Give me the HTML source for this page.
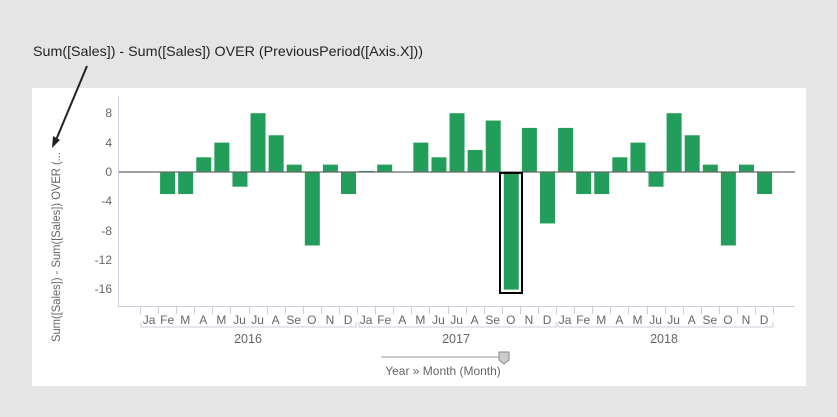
<!DOCTYPE html>
<html><head><meta charset="utf-8"><style>
html,body{margin:0;padding:0;background:#e5e5e5;}
svg{display:block;font-family:"Liberation Sans",sans-serif;}
</style></head><body>
<svg width="837" height="417" viewBox="0 0 837 417" xmlns="http://www.w3.org/2000/svg">
<rect width="837" height="417" fill="#e5e5e5"/>
<text x="33" y="56" font-size="14" fill="#222" textLength="390" lengthAdjust="spacingAndGlyphs">Sum([Sales]) - Sum([Sales]) OVER (PreviousPeriod([Axis.X]))</text>
<rect x="32" y="88" width="774" height="298" fill="#fff"/>
<line x1="87" y1="66" x2="56" y2="140" stroke="#222" stroke-width="2"/>
<polygon points="52,148 53,136 60,140" fill="#222"/>
<text transform="translate(60,247) rotate(-90)" text-anchor="middle" font-size="12" fill="#666" textLength="190" lengthAdjust="spacingAndGlyphs">Sum([Sales]) - Sum([Sales]) OVER (...</text>
<g font-size="12" fill="#666" text-anchor="end">
<text x="112" y="117">8</text><text x="112" y="147">4</text><text x="112" y="176">0</text>
<text x="112" y="205">-4</text><text x="112" y="235">-8</text><text x="112" y="264">-12</text><text x="112" y="293">-16</text>
</g>
<line x1="118.5" y1="96" x2="118.5" y2="306" stroke="#ccccdd"/>
<line x1="118" y1="306.5" x2="795" y2="306.5" stroke="#ccccdd"/>
<g id="bars" fill="#229e5a"></g>
<line x1="119" y1="172" x2="795" y2="172" stroke="#666" stroke-width="1.3"/>
<rect x="500" y="173" width="22" height="120" fill="none" stroke="#000" stroke-width="2"/>
<g id="ticks" stroke="#ccccdd"></g>
<g id="labels" font-size="12" fill="#666" text-anchor="middle"></g>
<g stroke="#ccccdd" fill="none">
<path d="M141,322 V327 H356 V322"/>
<path d="M359,322 V327 H556 V322"/>
<path d="M558,322 V327 H773 V322"/>
</g>
<g font-size="12.5" fill="#666" text-anchor="middle">
<text x="248" y="343">2016</text><text x="456" y="343">2017</text><text x="664" y="343">2018</text>
</g>
<line x1="381" y1="357" x2="500" y2="357" stroke="#999"/>
<path d="M499,352 H509 V360 L504,364 L499,360 Z" fill="#ccc" stroke="#888"/>
<text x="443" y="375" font-size="12" fill="#666" text-anchor="middle">Year » Month (Month)</text>
<script>
var vals=[0,-3,-3,2,4,-2,8,5,1,-10,1,-3, 0.15,1,0,4,2,8,3,7,-16,6,-7, 6,-3,-3,2,4,-2,8,5,1,-10,1,-3];
var labs=["Ja","Fe","M","A","M","Ju","Ju","A","Se","O","N","D","Ja","Fe","A","M","Ju","Ju","A","Se","O","N","D","Ja","Fe","M","A","M","Ju","Ju","A","Se","O","N","D"];
var ns="http://www.w3.org/2000/svg",W=18.09,k=7.35,z=172;
var bg=document.getElementById("bars"),tg=document.getElementById("ticks"),lg=document.getElementById("labels");
for(var i=0;i<=35;i++){var x=Math.round(140+i*W)+0.5;var l=document.createElementNS(ns,"line");l.setAttribute("x1",x);l.setAttribute("x2",x);l.setAttribute("y1",306);l.setAttribute("y2",314);tg.appendChild(l);}
for(var i=0;i<35;i++){var s=140+i*W,v=vals[i];
if(v!==0){var r=document.createElementNS(ns,"rect");var h=Math.abs(v)*k;r.setAttribute("x",s+2);r.setAttribute("width",15);r.setAttribute("y",v>0?z-h:z);r.setAttribute("height",h);bg.appendChild(r);}
var t=document.createElementNS(ns,"text");t.setAttribute("x",s+W/2);t.setAttribute("y",324);t.textContent=labs[i];lg.appendChild(t);}
</script>
</svg>
</body></html>
